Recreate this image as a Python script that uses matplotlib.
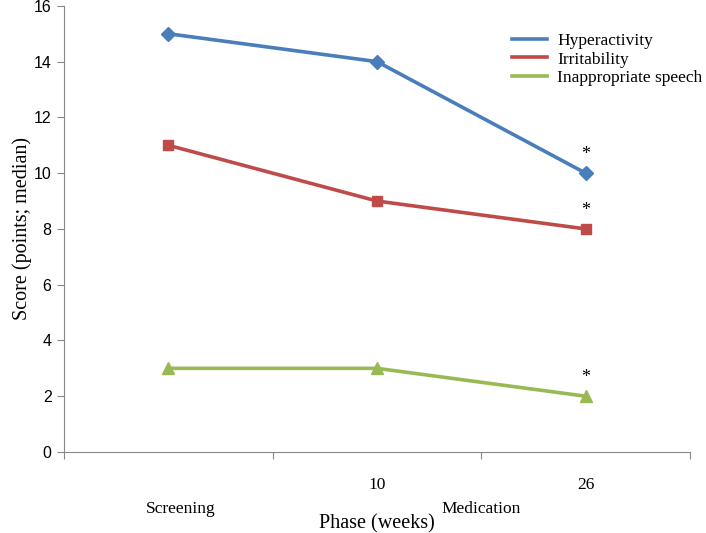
import numpy as np
import matplotlib.pyplot as plt

weeks = ["", "10", "26"]
phases = ["Screening", "Medication"]
hyperactivity = [15, 14, 10]
irritability = [11, 9, 8]
speech = [3, 3, 2]
significant = [False, False, True]

serif = "Liberation Serif"
sans = "Liberation Sans"

fig = plt.figure(figsize=(7.06, 5.33), dpi=100)
ax = fig.add_axes([0.0907, 0.152, 0.8866, 0.837])

x = np.arange(len(weeks))
series = [
    ("Hyperactivity", hyperactivity, "#4A7EBB", "D", 7),
    ("Irritability", irritability, "#BE4B48", "s", 7.5),
    ("Inappropriate speech", speech, "#98B954", "^", 8),
]
for name, vals, col, mk, ms in series:
    ax.plot(x, vals, color=col, lw=2.6, marker=mk, ms=ms, label=name)
    for xi, v, s in zip(x, vals, significant):
        if s:
            ax.text(xi, v + 0.35, "*", ha="center", va="bottom",
                    fontsize=13, family=serif)

ax.set_xlim(-0.5, 2.5)
ax.set_ylim(0, 16)
ax.set_yticks(np.arange(0, 17, 2))
ax.set_xticks([-0.5, 0.5, 1.5, 2.5])
ax.set_xticklabels([])
ax.tick_params(axis="x", length=5, color="#888888")
ax.tick_params(axis="y", length=5, color="#888888", labelsize=11.5, pad=4)
for lab in ax.get_yticklabels():
    lab.set_family(sans)

for sp in ["top", "right"]:
    ax.spines[sp].set_visible(False)
for sp in ["left", "bottom"]:
    ax.spines[sp].set_color("#888888")

# two-level category labels
for xi, w in zip(x, weeks):
    ax.text(xi, -0.075, w, transform=ax.get_xaxis_transform(),
            ha="center", va="center", fontsize=12.5, family=serif)
ax.text(0.06, -0.127, phases[0], transform=ax.get_xaxis_transform(),
        ha="center", va="center", fontsize=12.5, family=serif)
ax.text(1.5, -0.127, phases[1], transform=ax.get_xaxis_transform(),
        ha="center", va="center", fontsize=12.5, family=serif)

ax.set_xlabel("Phase (weeks)", family=serif, fontsize=14.5, labelpad=36)
ax.set_ylabel("Score (points; median)", family=serif, fontsize=14.5, labelpad=1)

leg = ax.legend(loc="upper right", bbox_to_anchor=(1.045, 0.975), frameon=False,
                prop={"family": serif, "size": 12.5}, handlelength=2.0,
                labelspacing=0.15, handletextpad=0.6)
for h in leg.legend_handles:
    h.set_marker("")

fig.savefig("out.png", dpi=100)
